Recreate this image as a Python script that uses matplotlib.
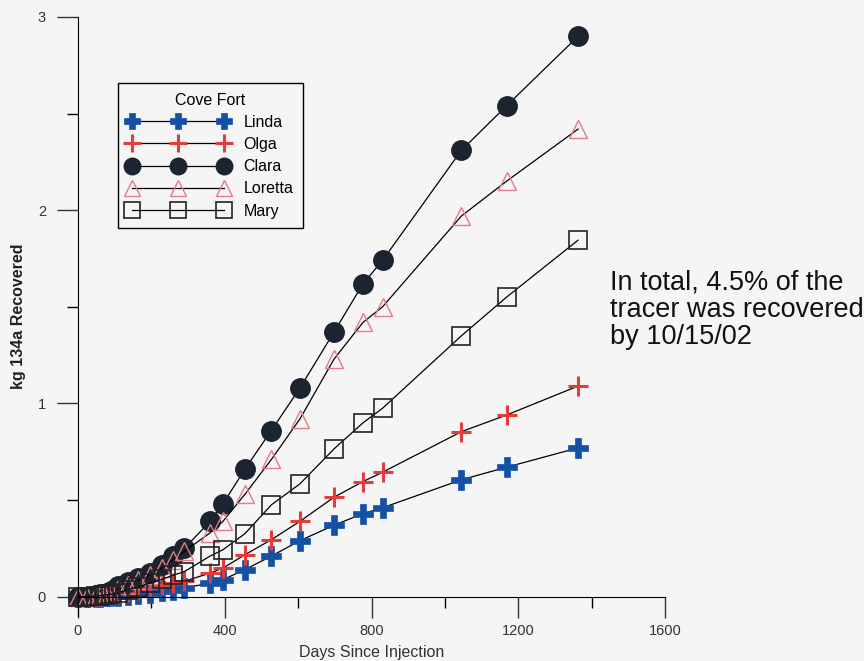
import numpy as np
import matplotlib.pyplot as plt

plt.rcParams['font.family'] = ['Liberation Sans', 'DejaVu Sans']

# sampling days (days since injection)
days = [0, 25, 50, 60, 70, 80, 90, 108, 135, 163, 195, 230, 258, 290,
        360, 395, 455, 527, 605, 698, 777, 830, 1045, 1168, 1363]

linda = [0, 0, 0, 0, 0.001, 0.002, 0.003, 0.005, 0.008, 0.013, 0.02, 0.028, 0.035, 0.045,
         0.07, 0.088, 0.14, 0.21, 0.29, 0.37, 0.43, 0.46, 0.605, 0.67, 0.77]
olga = [0, 0, 0, 0.003, 0.005, 0.008, 0.01, 0.015, 0.025, 0.035, 0.045, 0.06, 0.07, 0.08,
        0.122, 0.148, 0.217, 0.295, 0.39, 0.515, 0.596, 0.644, 0.854, 0.94, 1.09]
clara = [0, 0, 0.01, 0.012, 0.015, 0.02, 0.027, 0.053, 0.077, 0.097, 0.12, 0.165, 0.21, 0.25,
         0.39, 0.48, 0.66, 0.86, 1.08, 1.37, 1.62, 1.74, 2.31, 2.54, 2.90]
loretta = [0, 0, 0.005, 0.008, 0.01, 0.015, 0.02, 0.04, 0.06, 0.085, 0.11, 0.15, 0.19, 0.235,
           0.33, 0.39, 0.53, 0.71, 0.92, 1.23, 1.42, 1.50, 1.97, 2.15, 2.42]
mary = [0, 0, 0.003, 0.005, 0.008, 0.01, 0.012, 0.02, 0.035, 0.05, 0.07, 0.09, 0.11, 0.13,
        0.21, 0.243, 0.326, 0.475, 0.584, 0.765, 0.90, 0.975, 1.35, 1.55, 1.845]

bg = "#f5f5f5"
fig = plt.figure(figsize=(8.64, 6.61), dpi=100, facecolor=bg)
ax = fig.add_axes([78/864, 1-616/661, (665-78)/864, (616-17)/661])
ax.set_facecolor(bg)

ax.plot(days, linda, color="black", lw=0.9, marker="P", ms=14, mfc="#1451a6",
        mec="#1451a6", mew=0.5, label="Linda", clip_on=False)
ax.plot(days, olga, color="black", lw=0.9, marker="+", ms=15, mec="#e63b3b",
        mew=2.2, label="Olga", clip_on=False)
ax.plot(days, clara, color="black", lw=0.9, marker="o", ms=14, mfc="#1c2331",
        mec="#1c2331", label="Clara", clip_on=False)
ax.plot(days, loretta, color="black", lw=0.9, marker="^", ms=13, mfc="none",
        mec="#e27a88", mew=1.0, label="Loretta", clip_on=False)
ax.plot(days, mary, color="black", lw=0.9, marker="s", ms=13, mfc="none",
        mec="#222222", mew=1.2, label="Mary", clip_on=False)

ax.set_xlim(0, 1600)
ax.set_ylim(-0.1, 3.0)
ax.spines['top'].set_visible(False)
ax.spines['right'].set_visible(False)
ax.spines['bottom'].set_position(('data', 0))
ax.spines['left'].set_bounds(-0.1, 3.0)

ax.set_xticks([0, 400, 800, 1200, 1600])
ax.set_xticks([200, 600, 1000, 1400], minor=True)
ax.set_yticks([0, 1, 2, 3])
ax.set_yticks([0.5, 1.5, 2.5], minor=True)
ax.tick_params(which='major', direction='out', length=15, width=1, labelsize=10.5,
               colors="#333333")
ax.tick_params(which='minor', direction='out', length=8, width=1)
ax.tick_params(axis='x', which='major', pad=5)
ax.tick_params(axis='y', which='major', pad=8)

ax.set_xlabel("Days Since Injection", fontsize=11.5, color="#333333")
ax.xaxis.set_label_coords(0.5, -0.048)
ax.set_ylabel("kg 134a Recovered", fontsize=11.5, fontweight="bold", color="#222222")
ax.yaxis.set_label_coords(-0.088, 0.5)

leg = ax.legend(title="Cove Fort", loc="upper left", bbox_to_anchor=(118/864, 1-83/661),
                bbox_transform=fig.transFigure, borderaxespad=0, numpoints=3,
                handlelength=6.35, fontsize=11.5, title_fontsize=11.5, markerscale=0.85,
                fancybox=False, edgecolor="black", facecolor=bg, framealpha=1,
                labelspacing=0.45, handletextpad=0.9, borderpad=0.6)
leg.get_frame().set_linewidth(1.0)

fig.text(610/864, 1-310/661, "In total, 4.5% of the\ntracer was recovered\nby 10/15/02",
         fontsize=19.5, va="center", ha="left", color="#111111", linespacing=1.05)

plt.savefig("out.png", dpi=100, facecolor=bg)
